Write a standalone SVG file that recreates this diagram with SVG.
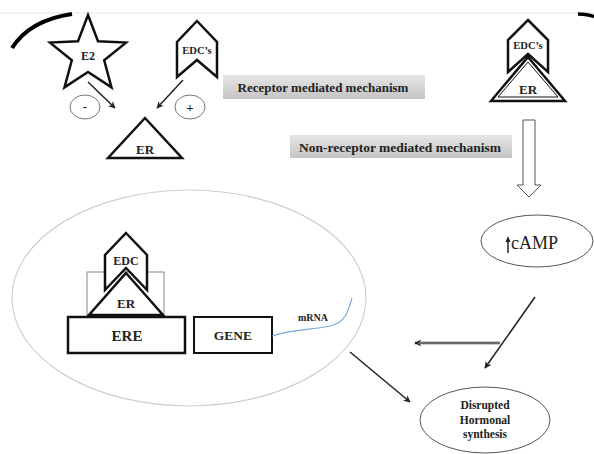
<svg xmlns="http://www.w3.org/2000/svg" width="594" height="454" viewBox="0 0 594 454">
<defs>
<linearGradient id="gbox" x1="0" y1="0" x2="0" y2="1">
<stop offset="0" stop-color="#e6e6e6"/>
<stop offset="1" stop-color="#c4c4c4"/>
</linearGradient>
<marker id="ah" viewBox="0 0 10 10" refX="9" refY="5" markerWidth="7" markerHeight="7" orient="auto" markerUnits="userSpaceOnUse">
<path d="M0,0 L10,5 L0,10 L3,5 Z" fill="#222"/>
</marker>
</defs>
<style>
.t{font-family:"Liberation Serif","Times New Roman",serif;font-weight:bold;fill:#222;text-anchor:middle}
.sh{fill:#fff;stroke:#111;stroke-width:2.5;stroke-linejoin:miter}
.ln{stroke:#222;stroke-width:1.5;fill:none}
</style>
<rect width="594" height="454" fill="#fff"/>
<line x1="0" y1="13" x2="594" y2="13" stroke="#e4e4e4" stroke-width="1"/>
<path d="M12,48 Q30,20 72,14" fill="none" stroke="#000" stroke-width="4"/>
<path d="M578,14 Q588,14.5 594,16.5" fill="none" stroke="#000" stroke-width="3.5"/>

<g id="cell">
<ellipse cx="189" cy="298" rx="177" ry="108" fill="none" stroke="#cfcfcf" stroke-width="1.2"/>
</g>

<g id="e2">
<polygon class="sh" points="88,15 98,41.3 126,42.6 104.2,60.3 111.5,87.4 88,72 64.5,87.4 71.8,60.3 50,42.6 78,41.3"/>
<text class="t" x="88" y="60" font-size="12">E2</text>
</g>

<g id="edc1">
<polygon class="sh" points="197,21 217,42 217,77 197,60 177,77 177,42"/>
<text class="t" x="197" y="54" font-size="10.5">EDC’s</text>
</g>

<g id="minus">
<ellipse cx="85" cy="107" rx="15" ry="12" fill="#fff" stroke="#777" stroke-width="1"/>
<text class="t" x="85" y="111" font-size="13">-</text>
</g>
<g id="plus">
<ellipse cx="190" cy="107" rx="15" ry="12" fill="#fff" stroke="#777" stroke-width="1"/>
<text class="t" x="190" y="111.5" font-size="13">+</text>
</g>

<g id="er1">
<polygon class="sh" points="145,118 182,158 108,158"/>
<text class="t" x="145" y="154" font-size="13">ER</text>
</g>

<g id="receptor">
<rect x="223" y="75" width="202" height="24" fill="url(#gbox)"/>
<text class="t" x="323" y="92" font-size="13">Receptor mediated mechanism</text>
</g>

<g id="nonreceptor">
<rect x="290" y="135" width="222" height="23" fill="url(#gbox)"/>
<text class="t" x="400" y="151.5" font-size="13.5">Non-receptor mediated mechanism</text>
</g>

<g id="edcer2">
<polygon class="sh" points="528,20 548,40 548,72 528,54 508,72 508,40"/>
<text class="t" x="528" y="49" font-size="10.5">EDC’s</text>
<polygon class="sh" points="528,57 565,101 491,101" stroke-width="4"/>
<polygon points="528,62 558,97 498,97" fill="#fff" stroke="#111" stroke-width="1"/>
<text class="t" x="528" y="94" font-size="13">ER</text>
</g>

<g id="camp">
<ellipse cx="537" cy="241" rx="56" ry="26" fill="#fff" stroke="#555" stroke-width="1"/>
<line x1="508" y1="253" x2="508" y2="240" stroke="#222" stroke-width="1.5"/>
<path d="M505.5,242 L508,236 L510.5,242 Z" fill="#222"/>
<text x="511" y="249" font-family="Liberation Serif,serif" font-size="18" fill="#222">cAMP</text>
</g>

<g id="complex">
<rect x="87" y="272" width="77" height="43" fill="none" stroke="#888" stroke-width="1"/>
<polygon class="sh" points="126,233 147,255 147,290 126,268 105,290 105,255" fill="none"/>
<text class="t" x="126" y="265" font-size="12">EDC</text>
<polygon class="sh" points="126,273 163,315 89,315" stroke-width="3.5"/>
<text class="t" x="126" y="308" font-size="13">ER</text>
</g>

<g id="ere">
<rect x="68" y="317" width="117" height="36" fill="#fff" stroke="#111" stroke-width="2.5"/>
<text class="t" x="127" y="341" font-size="15">ERE</text>
</g>

<g id="gene">
<rect x="194" y="317" width="78" height="36" fill="#fff" stroke="#111" stroke-width="2"/>
<text class="t" x="233" y="340" font-size="13.5">GENE</text>
</g>

<g id="mrna">
<text class="t" x="313" y="321" font-size="10">mRNA</text>
<path d="M272,336 C290,330 310,330 330,326 C345,323 348,312 352,298" fill="none" stroke="#7aa6d8" stroke-width="1.2"/>
</g>

<g id="disrupted">
<ellipse cx="485" cy="420" rx="65" ry="33" fill="#fff" stroke="#555" stroke-width="1"/>
<text class="t" x="485" y="409" font-size="11.5">Disrupted</text>
<text class="t" x="485" y="423.5" font-size="11.5">Hormonal</text>
<text class="t" x="485" y="438" font-size="11.5">synthesis</text>
</g>

<g id="connectors">
<line class="ln" x1="88" y1="82" x2="115" y2="108" marker-end="url(#ah)"/>
<line class="ln" x1="183" y1="80" x2="157" y2="108" marker-end="url(#ah)"/>
<polygon points="523,120 535,120 535,185 541,185 529,197 517,185 523,185" fill="#fff" stroke="#555" stroke-width="1"/>
<line class="ln" x1="535" y1="297" x2="485" y2="368" marker-end="url(#ah)"/>
<line x1="500" y1="343" x2="415" y2="343" stroke="#333" stroke-width="2.6" marker-end="url(#ah)"/>
<line x1="500" y1="343" x2="418" y2="343" stroke="#bbb" stroke-width="0.8"/>
<line class="ln" x1="350" y1="352" x2="410" y2="402" marker-end="url(#ah)"/>
</g>
</svg>
